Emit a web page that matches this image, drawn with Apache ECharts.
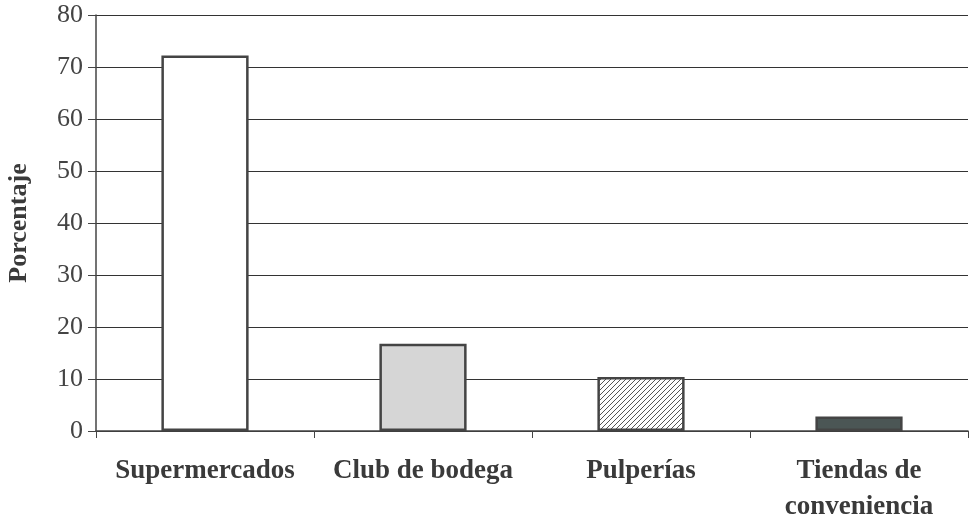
<!DOCTYPE html>
<html>
<head>
<meta charset="utf-8">
<script src="https://cdn.jsdelivr.net/npm/echarts@6/dist/echarts.min.js"></script>
<style>
  html, body { margin: 0; padding: 0; background: #fff; }
  #chart { width: 970px; height: 518px; }
</style>
</head>
<body>
<div id="chart"></div>
<script>
const categories = ['Supermercados', 'Club de bodega', 'Pulperías', 'Tiendas de\nconveniencia']
const values = [72.2, 16.8, 10.4, 2.8]
const yTicks = [0, 10, 20, 30, 40, 50, 60, 70, 80]

// diagonal hatch for Pulperías
const makeHatch = () => {
  const c = document.createElement('canvas')
  c.width = 5
  c.height = 5
  const ctx = c.getContext('2d')
  ctx.fillStyle = '#ffffff'
  ctx.fillRect(0, 0, 5, 5)
  ctx.strokeStyle = '#555'
  ctx.lineWidth = 1
  ctx.beginPath()
  ctx.moveTo(0, 5); ctx.lineTo(5, 0)
  ctx.moveTo(-2.5, 2.5); ctx.lineTo(2.5, -2.5)
  ctx.moveTo(2.5, 7.5); ctx.lineTo(7.5, 2.5)
  ctx.stroke()
  return c
}

const fills = ['#ffffff', '#d6d6d6', { image: makeHatch(), repeat: 'repeat' }, '#4b5655']

const chart = echarts.init(document.getElementById('chart'))

chart.setOption({
  backgroundColor: '#ffffff',
  animation: false,
  grid: { left: 96, right: 2, top: 15, bottom: 87, outerBoundsMode: 'none', containLabel: false },
  xAxis: {
    type: 'category',
    data: categories,
    axisLine: { lineStyle: { color: '#444', width: 1.5 } },
    axisTick: { show: true, interval: 0, length: 7, lineStyle: { color: '#444' } },
    axisLabel: {
      interval: 0,
      margin: 22,
      fontFamily: 'Liberation Serif',
      fontWeight: 'bold',
      fontSize: 27,
      color: '#3a3a3a',
      lineHeight: 36
    }
  },
  yAxis: {
    type: 'value',
    min: 0,
    max: 80,
    interval: 10,
    name: 'Porcentaje',
    nameLocation: 'middle',
    nameGap: 64,
    nameTextStyle: {
      fontFamily: 'Liberation Serif',
      fontWeight: 'bold',
      fontSize: 26,
      color: '#3a3a3a'
    },
    axisLine: { show: true, lineStyle: { color: '#444', width: 1.5 } },
    axisTick: { show: true, length: 8, lineStyle: { color: '#444' } },
    axisLabel: {
      margin: 13,
      fontFamily: 'Liberation Serif',
      fontSize: 26,
      color: '#444',
      formatter: v => yTicks.includes(v) ? String(v) : ''
    },
    splitLine: { show: true, lineStyle: { color: '#333', width: 1 } }
  },
  series: [
    {
      type: 'bar',
      barWidth: '40%',
      data: values.map((v, i) => ({
        value: v,
        itemStyle: {
          color: fills[i],
          borderColor: '#444',
          borderWidth: 2.5
        }
      }))
    }
  ]
})
</script>
</body>
</html>
